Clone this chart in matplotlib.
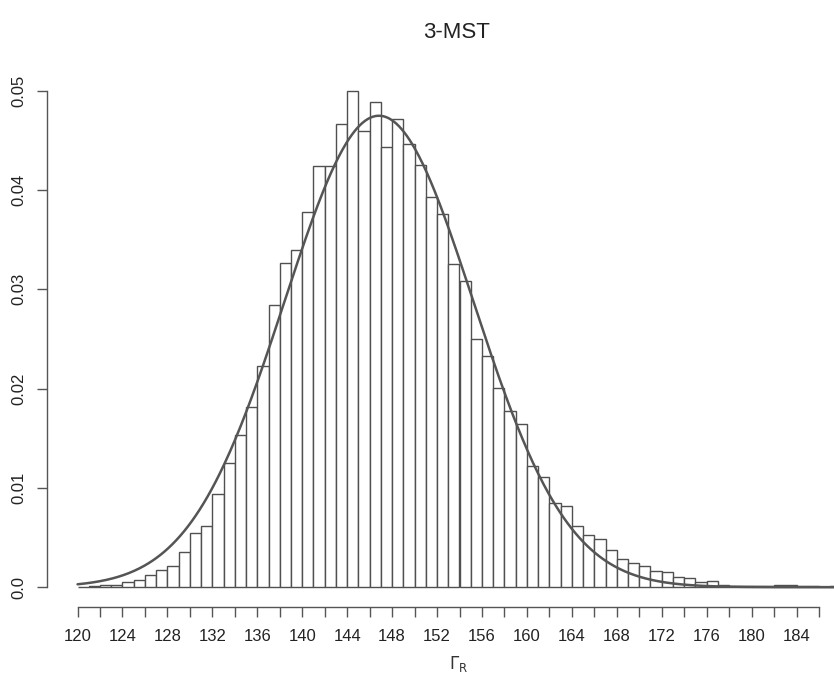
import numpy as np
import matplotlib
matplotlib.use("Agg")
import matplotlib.pyplot as plt

# Histogram of the statistic (density scale, unit-width bins starting at 120)
bin_starts = list(range(120, 188))
densities = [
    0.00005, 0.0001, 0.0002, 0.0002, 0.00053, 0.0007, 0.0012, 0.0017,
    0.0021, 0.0035, 0.0055, 0.0062, 0.0094, 0.0125, 0.0153, 0.0181,
    0.0223, 0.0284, 0.0327, 0.0340, 0.0378, 0.0424, 0.0424, 0.0467,
    0.0500, 0.0460, 0.0489, 0.0443, 0.0472, 0.0446, 0.0425, 0.0393,
    0.0376, 0.0326, 0.0308, 0.0250, 0.0233, 0.0201, 0.0177, 0.0164,
    0.0122, 0.0111, 0.0085, 0.0082, 0.0062, 0.0053, 0.0049, 0.0037,
    0.0028, 0.0024, 0.0021, 0.0016, 0.0015, 0.0010, 0.0009, 0.0005,
    0.0006, 0.0002, 0.0001, 0.0001, 0.0001, 0.0001, 0.0002, 0.0002,
    0.0001, 0.0001, 0.0, 0.0001,
]

# Fitted normal density
fit_mean = 146.83
fit_sd = 8.40

x_tick_positions = list(range(120, 188, 2))
x_tick_labels = [str(v) if (v - 120) % 4 == 0 and v <= 184 else "" for v in x_tick_positions]
y_ticks = [0.0, 0.01, 0.02, 0.03, 0.04, 0.05]
y_tick_labels = ["0.0", "0.01", "0.02", "0.03", "0.04", "0.05"]

plt.rcParams["font.family"] = ["Liberation Sans", "DejaVu Sans"]

W, H = 834, 678
fig = plt.figure(figsize=(W / 100, H / 100), dpi=100)
fig.patch.set_facecolor("white")

# plot region in pixels (it runs past the right edge of the figure)
left_px, right_px, top_px, bottom_px = 47, 872, 71, 607
ax = fig.add_axes([left_px / W, 1 - bottom_px / H,
                   (right_px - left_px) / W, (bottom_px - top_px) / H])
ax.set_xlim(117.28, 190.72)
ax.set_ylim(-0.002, 0.052)

edge = "#505050"
ax.bar(bin_starts, densities, width=1.0, align="edge",
       facecolor="white", edgecolor=edge, linewidth=1.0, zorder=2)

xs = np.linspace(120, 190, 600)
ys = np.exp(-0.5 * ((xs - fit_mean) / fit_sd) ** 2) / (fit_sd * np.sqrt(2 * np.pi))
ax.plot(xs, ys, color="#555555", linewidth=1.8, zorder=3, solid_capstyle="round")

for side in ("top", "right"):
    ax.spines[side].set_visible(False)
ax.spines["left"].set_bounds(0.0, 0.05)
ax.spines["bottom"].set_bounds(120, 186)
for side in ("left", "bottom"):
    ax.spines[side].set_color("#555555")
    ax.spines[side].set_linewidth(1.0)

ax.set_xticks(x_tick_positions)
ax.set_xticklabels(x_tick_labels)
ax.set_yticks(y_ticks)
ax.set_yticklabels(y_tick_labels, rotation=90, va="center")
ax.tick_params(axis="both", colors="#555555", labelcolor="#222222",
               length=7.5, width=1.0, labelsize=12)
ax.tick_params(axis="x", pad=8)
ax.tick_params(axis="y", pad=7)

fig.text(457 / W, 1 - 32 / H, "3-MST", ha="center", va="center",
         fontsize=16, color="#222222")
fig.text(459 / W, 1 - 664 / H, r"$\mathit{\Gamma}_{\mathrm{R}}$", ha="center", va="center",
         fontsize=12, color="#333333")

fig.savefig("out.png", dpi=100, facecolor="white")
